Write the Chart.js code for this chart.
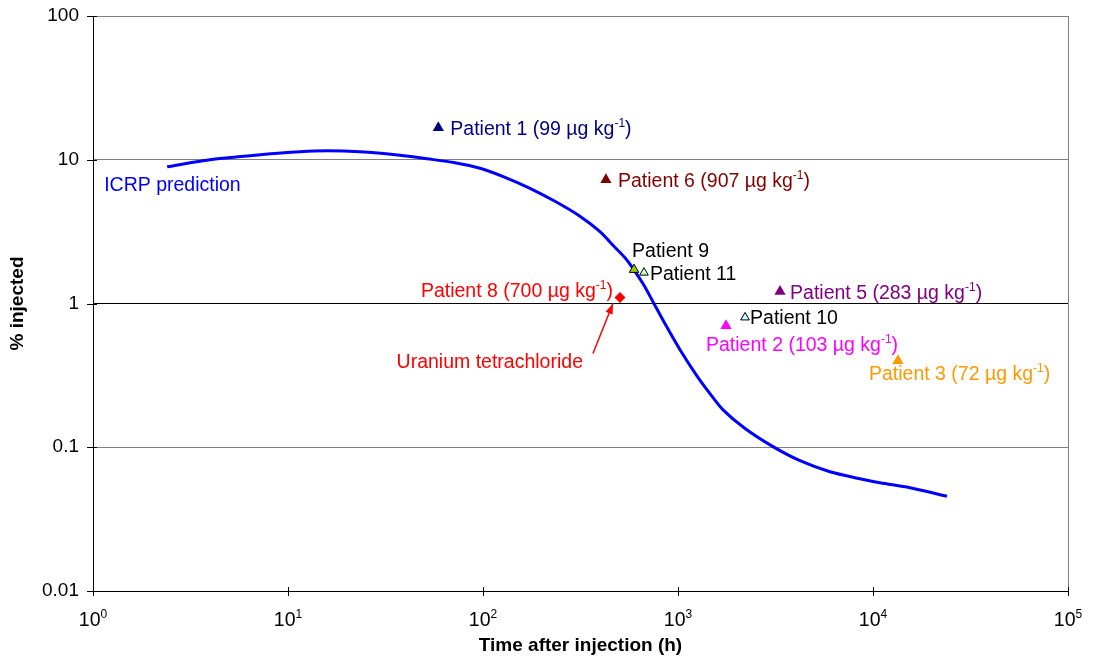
<!DOCTYPE html>
<html>
<head>
<meta charset="utf-8">
<script src="https://cdn.jsdelivr.net/npm/chart.js@4.4.0/dist/chart.umd.min.js"></script>
<style>
  html, body { margin: 0; padding: 0; background: #fff; }
  #wrap { width: 1094px; height: 661px; }
</style>
</head>
<body>
<div id="wrap"><canvas id="myChart"></canvas></div>
<script>
// ICRP model curve (hours, % injected)
const icrpTimes = [2.4, 3.98, 7.19, 11.5, 15.85, 23.4, 37.5, 51.6, 71.8, 96.5, 129.7, 174.2, 233.9, 314, 398, 464, 535, 588, 662, 744,
                   858, 1024, 1250, 1459, 1702, 2207, 3070, 4223, 6017, 8570, 10860, 15480, 23950];
const icrpPct   = [8.94, 10.0, 10.83, 11.37, 11.55, 11.37, 10.75, 10.16, 9.53, 8.73, 7.55, 6.33, 5.14, 4.05, 3.16, 2.54, 2.08, 1.75, 1.37, 1.03,
                   0.723, 0.477, 0.314, 0.236, 0.182, 0.135, 0.101, 0.0806, 0.0675, 0.0604, 0.0566, 0.0523, 0.0456];

// patient measurements
const patientNames = ['Patient 1', 'Patient 6', 'Patient 9', 'Patient 11', 'Patient 8', 'Patient 5', 'Patient 10', 'Patient 2', 'Patient 3'];
const patientTimes = [59, 427, 595, 669, 504, 3336, 2207, 1763, 13430];
const patientPct   = [16.7, 7.26, 1.72, 1.64, 1.10, 1.21, 0.80, 0.70, 0.40];
const patientDoses = [99, 907, null, null, 700, 283, null, 103, 72];

const xTickValues = [1, 10, 100, 1000, 10000, 100000];
const yTickValues = [0.01, 0.1, 1, 10, 100];
const yTickLabels = ['0.01', '0.1', '1', '10', '100'];

const FONT = '"Liberation Sans", Arial, Helvetica, sans-serif';

// look of each patient marker and where its label sits
const patientStyle = [
    { color: '#000080', fill: '#000080', shape: 'triangle', r: 6.5, dx: 12, dy: 0, align: 'left' },
    { color: '#800000', fill: '#800000', shape: 'triangle', r: 6.5, dx: 12, dy: 0, align: 'left' },
    { color: '#000000', fill: '#99CC00', shape: 'triangle', r: 5.5, dx: -2, dy: -20, align: 'left', border: 1 },
    { color: '#000000', fill: '#CCFFCC', shape: 'triangle', r: 5, dx: 6, dy: 0, align: 'left', border: 1 },
    { color: '#FF0000', fill: '#FF0000', shape: 'rectRot', r: 5.5, dx: -7, dy: -8, align: 'right' },
    { color: '#800080', fill: '#800080', shape: 'triangle', r: 6.5, dx: 10, dy: 0, align: 'left' },
    { color: '#000000', fill: '#CCFFFF', shape: 'triangle', r: 5, dx: 5, dy: 0, align: 'left', border: 1 },
    { color: '#FF00FF', fill: '#FF00FF', shape: 'triangle', r: 6.5, dx: -20, dy: 18, align: 'left' },
    { color: '#FF9900', fill: '#FF9900', shape: 'triangle', r: 6.5, dx: -29, dy: 12, align: 'left' }
];

const datasets = [{
    label: 'ICRP prediction',
    data: icrpTimes.map((t, i) => ({ x: t, y: icrpPct[i] })),
    showLine: true,
    borderColor: '#0000FF',
    borderWidth: 3,
    pointRadius: 0,
    tension: 0.3,
    order: 1
}];
patientNames.forEach((name, i) => {
    const s = patientStyle[i];
    datasets.push({
        label: name,
        data: [{ x: patientTimes[i], y: patientPct[i] }],
        pointStyle: s.shape,
        pointRadius: s.r,
        backgroundColor: s.fill,
        borderColor: '#000',
        borderWidth: s.border || 0,
        order: 0
    });
});

// text with a raised "-1"
function drawRich(ctx, parts, x, y, align) {
    const big = '19.5px ' + FONT, small = '12px ' + FONT;
    let total = 0;
    parts.forEach(p => { ctx.font = p.sup ? small : big; total += ctx.measureText(p.t).width; });
    let cx = align === 'right' ? x - total : (align === 'center' ? x - total / 2 : x);
    ctx.textAlign = 'left';
    ctx.textBaseline = 'alphabetic';
    parts.forEach(p => {
        ctx.font = p.sup ? small : big;
        ctx.fillText(p.t, cx, p.sup ? y - 8 : y);
        cx += ctx.measureText(p.t).width;
    });
}

const annotations = {
    id: 'annotations',
    afterDraw(chart) {
        const ctx = chart.ctx;
        const xs = chart.scales.x, ys = chart.scales.y;
        const area = chart.chartArea;
        ctx.save();

        // right frame
        ctx.strokeStyle = '#808080';
        ctx.lineWidth = 1;
        ctx.beginPath();
        ctx.moveTo(Math.round(area.right) + 0.5, area.top);
        ctx.lineTo(Math.round(area.right) + 0.5, area.bottom);
        ctx.stroke();

        // crossing tick marks
        ctx.strokeStyle = '#000';
        ctx.beginPath();
        xs.ticks.forEach(t => {
            const px = Math.round(xs.getPixelForValue(t.value)) + 0.5;
            ctx.moveTo(px, area.bottom - 4);
            ctx.lineTo(px, area.bottom + 5);
        });
        ys.ticks.forEach(t => {
            const py = Math.round(ys.getPixelForValue(t.value)) + 0.5;
            ctx.moveTo(area.left - 6, py);
            ctx.lineTo(area.left + 4, py);
        });
        ctx.stroke();

        // x tick labels 10^n
        ctx.fillStyle = '#000';
        xs.ticks.forEach(t => {
            const px = xs.getPixelForValue(t.value);
            const e = String(Math.round(Math.log10(t.value)));
            drawRich(ctx, [{ t: '10' }, { t: e, sup: true }], px, area.bottom + 35, 'center');
        });

        // patient labels
        patientNames.forEach((name, i) => {
            const s = patientStyle[i];
            const px = xs.getPixelForValue(patientTimes[i]);
            const py = ys.getPixelForValue(patientPct[i]);
            const parts = patientDoses[i] == null
                ? [{ t: name }]
                : [{ t: name + ' (' + patientDoses[i] + ' µg kg' }, { t: '-1', sup: true }, { t: ')' }];
            ctx.fillStyle = s.color;
            drawRich(ctx, parts, px + s.dx, py + s.dy + 7, s.align);
        });

        // ICRP label
        const cx0 = xs.getPixelForValue(icrpTimes[0]);
        const cy0 = ys.getPixelForValue(icrpPct[0]);
        ctx.fillStyle = '#0000FF';
        drawRich(ctx, [{ t: 'ICRP prediction' }], cx0 - 63, cy0 + 24, 'left');

        // uranium tetrachloride arrow (patient 8)
        const i8 = patientNames.indexOf('Patient 8');
        const p8x = xs.getPixelForValue(patientTimes[i8]);
        const p8y = ys.getPixelForValue(patientPct[i8]);
        ctx.fillStyle = '#FF0000';
        drawRich(ctx, [{ t: 'Uranium tetrachloride' }], p8x - 37, p8y + 70, 'right');
        const tx = p8x - 7, ty = p8y + 6, fx = p8x - 27, fy = p8y + 56;
        ctx.strokeStyle = '#FF0000';
        ctx.lineWidth = 1.5;
        ctx.beginPath();
        ctx.moveTo(fx, fy);
        ctx.lineTo(tx, ty);
        ctx.stroke();
        const ang = Math.atan2(ty - fy, tx - fx);
        ctx.beginPath();
        ctx.moveTo(tx, ty);
        ctx.lineTo(tx - 11 * Math.cos(ang - 0.35), ty - 11 * Math.sin(ang - 0.35));
        ctx.lineTo(tx - 11 * Math.cos(ang + 0.35), ty - 11 * Math.sin(ang + 0.35));
        ctx.closePath();
        ctx.fill();

        ctx.restore();
    }
};

const ctx = document.getElementById('myChart');
new Chart(ctx, {
    type: 'scatter',
    data: { datasets: datasets },
    options: {
        responsive: true,
        maintainAspectRatio: false,
        animation: false,
        layout: { padding: { top: 16, right: 26, left: 0, bottom: 0 } },
        scales: {
            x: {
                type: 'logarithmic',
                min: 1,
                max: 100000,
                afterBuildTicks: s => { s.ticks = xTickValues.map(v => ({ value: v })); },
                afterFit: s => { s.height = 70; s.paddingLeft = 0; s.paddingRight = 0; },
                ticks: { display: false },
                grid: { drawOnChartArea: false, drawTicks: false },
                border: { display: true, color: '#000', width: 1 },
                title: {
                    display: true,
                    text: 'Time after injection (h)',
                    color: '#000',
                    font: { family: FONT, size: 19, weight: 'bold' },
                    padding: { top: 0, bottom: 4 }
                }
            },
            y: {
                type: 'logarithmic',
                min: 0.01,
                max: 100,
                afterBuildTicks: s => { s.ticks = yTickValues.map(v => ({ value: v })); },
                afterFit: s => { s.width = 93; s.paddingTop = 0; s.paddingBottom = 0; },
                ticks: {
                    color: '#000',
                    font: { family: FONT, size: 19 },
                    padding: 14,
                    callback: v => yTickLabels[yTickValues.indexOf(v)]
                },
                grid: {
                    drawTicks: false,
                    color: c => (c.tick && c.tick.value === 1) ? '#000' : '#808080',
                    lineWidth: 1
                },
                border: { display: true, color: '#000', width: 1 },
                title: {
                    display: true,
                    text: '% injected',
                    color: '#000',
                    font: { family: FONT, size: 19, weight: 'bold' },
                    padding: { top: 6, bottom: 0 }
                }
            }
        },
        plugins: {
            legend: { display: false },
            tooltip: { enabled: false }
        }
    },
    plugins: [annotations]
});
</script>
</body>
</html>
